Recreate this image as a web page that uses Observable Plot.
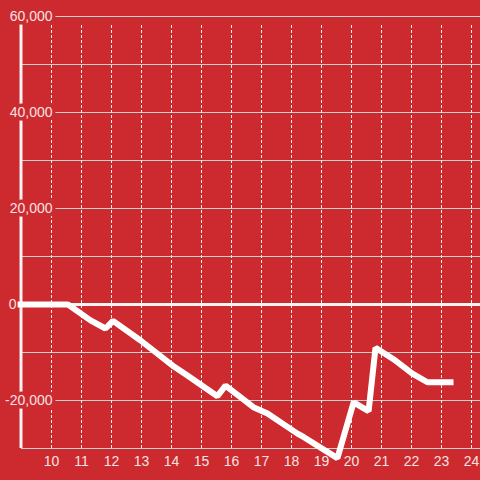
<!DOCTYPE html>
<html>
<head>
<meta charset="utf-8">
<script src="https://cdn.jsdelivr.net/npm/d3@7"></script>
<script src="https://cdn.jsdelivr.net/npm/@observablehq/plot@0.6"></script>
<style>
  html, body { margin: 0; padding: 0; background: #cc2a2f; }
</style>
</head>
<body>
<div id="chart"></div>
<script>
const times = [8.87, 10.55, 11.3, 11.8, 12.05, 12.97, 14.03, 14.53, 15.53, 15.8, 16.73, 17.2, 18.2, 18.4, 19.53, 20.07, 20.57, 20.8, 21.4, 22.03, 22.53, 23.4];
const values = [0, 0, -3300, -5000, -3400, -7500, -12700, -14800, -19100, -16900, -21400, -22700, -26900, -27600, -32000, -20400, -22200, -9000, -11400, -14400, -16200, -16200];
const xTicks = [10, 11, 12, 13, 14, 15, 16, 17, 18, 19, 20, 21, 22, 23, 24];
const yGrid = [-30000, -20000, -10000, 0, 10000, 20000, 30000, 40000, 50000, 60000];
const yLabels = [60000, 40000, 20000, 0, -20000];

const bg = "#cc2a2f";
const fg = "#f6e2e2";
const data = times.map((t, i) => ({t, v: values[i]}));

const chart = Plot.plot({
  width: 480,
  height: 480,
  marginLeft: 21,
  marginRight: 0,
  marginTop: 16,
  marginBottom: 32,
  style: {background: bg, fontSize: "14px", fontFamily: "Liberation Sans, Arial, sans-serif", color: fg},
  x: {domain: [9, 24.3], label: null},
  y: {domain: [-30000, 60000], axis: null, label: null},
  marks: [
    Plot.ruleY(yGrid, {stroke: "#cfcfcf", strokeWidth: 1}),
    Plot.ruleX(xTicks, {y1: -30000, y2: 58500, stroke: "#eeeeee", strokeWidth: 1, strokeDasharray: "3,2"}),
    Plot.ruleX([9], {y1: -30000, y2: 60000, stroke: "#f4f4f4", strokeWidth: 3, dx: -0.5}),
    Plot.ruleY([0], {stroke: "#f4f4f4", strokeWidth: 3}),
    Plot.text(yLabels.filter(d => d !== 0), {x: 9, y: d => d, text: d => d.toLocaleString("en-US"), textAnchor: "end", dx: 31, fill: fg, stroke: bg, strokeWidth: 7, fontSize: 14}),
    Plot.text(yLabels.filter(d => d === 0), {x: 9, y: d => d, text: d => d.toLocaleString("en-US"), textAnchor: "end", dx: -5, fill: fg, stroke: bg, strokeWidth: 7, fontSize: 14}),
    Plot.axisX(xTicks, {tickSize: 0, tickPadding: 8, fill: fg, fontSize: 14, label: null}),
    Plot.line(data, {x: "t", y: "v", stroke: "white", strokeWidth: 6, strokeLinecap: "butt", strokeLinejoin: "miter", curve: "linear"})
  ]
});
document.getElementById("chart").appendChild(chart);
</script>
</body>
</html>
